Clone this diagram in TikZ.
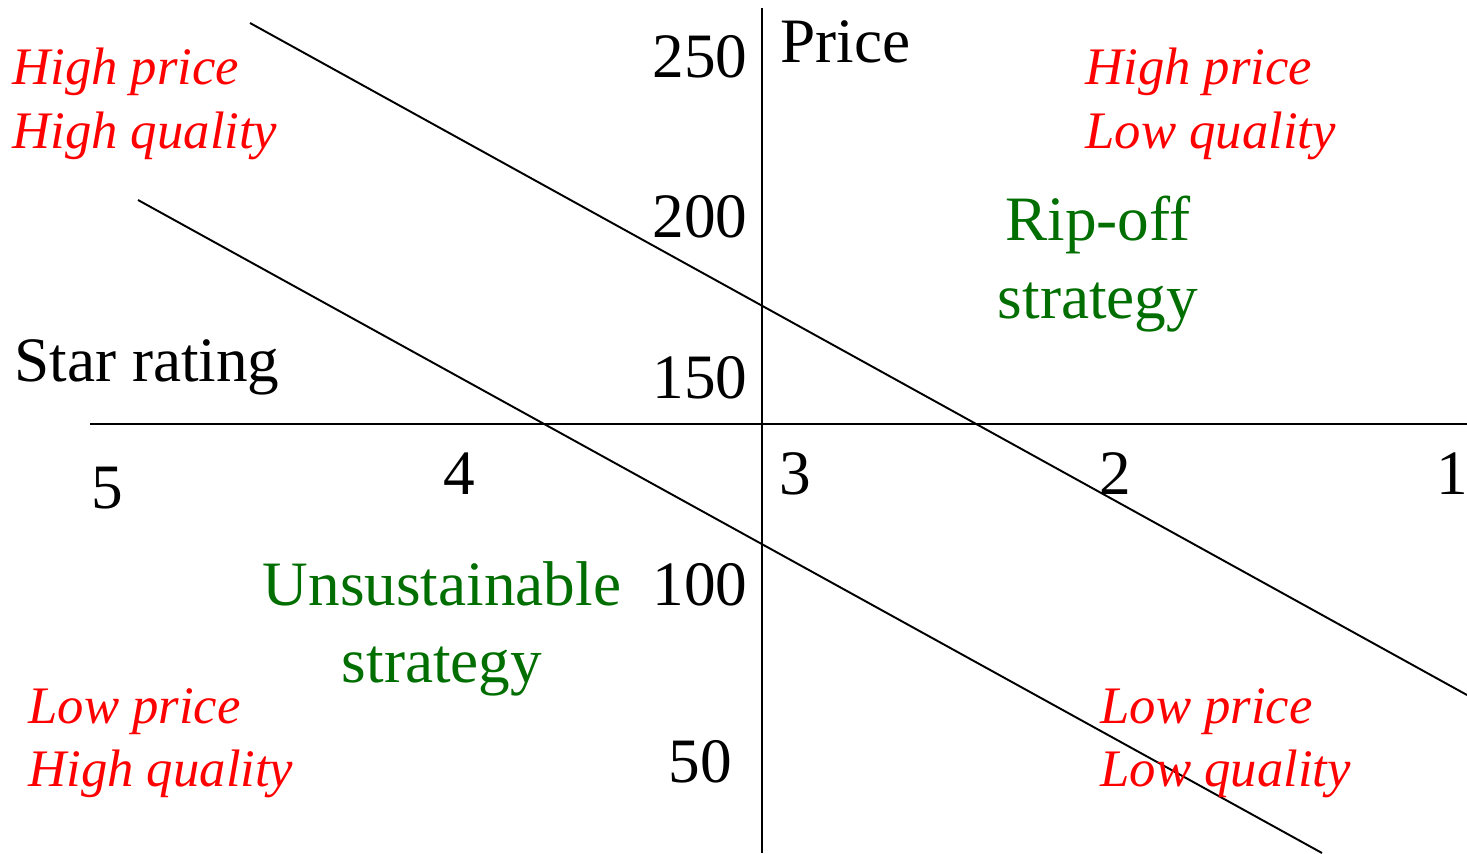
\documentclass[tikz,border=0pt]{standalone}
\usepackage{fontspec}
\setmainfont{Liberation Serif}
\definecolor{tred}{RGB}{255,0,0}
\definecolor{tgreen}{RGB}{0,110,0}
\begin{document}
\begin{tikzpicture}[x=0.02cm,y=-0.02cm,
  axis/.style={line width=1.1pt,black},
  lbl/.style={inner sep=0pt,font=\fontsize{36}{40}\selectfont},
  quad/.style={inner sep=0pt,text=tred,align=left,font=\fontsize{30}{36}\selectfont\itshape},
  strat/.style={inner sep=0pt,text=tgreen,align=center,font=\fontsize{36}{44}\selectfont}]
\useasboundingbox (0,0) rectangle (1467,853);
% axes
\coordinate (vt) at (762,8);
\coordinate (vb) at (762,853);
\coordinate (hl) at (90,424);
\coordinate (hr) at (1467,424);
\draw[axis] (vt) -- (vb);
\draw[axis] (hl) -- (hr);
% diagonal lines
\coordinate (a1) at (250,23);
\coordinate (a2) at (1467,695);
\coordinate (b1) at (138,200);
\coordinate (b2) at (1322,853);
\draw[axis] (a1) -- (a2);
\draw[axis] (b1) -- (b2);
% axis labels
\node[lbl,anchor=west] (price) at (780,42) {Price};
\node[lbl,anchor=west] (star) at (14,367) {Star rating};
\node[lbl] (p250) at (700,57) {250};
\node[lbl] (p200) at (700,217) {200};
\node[lbl] (p150) at (700,378) {150};
\node[lbl] (p100) at (700,585) {100};
\node[lbl] (p50) at (700,762) {50};
\node[lbl] (s5) at (107,488) {5};
\node[lbl] (s4) at (459,474) {4};
\node[lbl] (s3) at (795,474) {3};
\node[lbl] (s2) at (1115,474) {2};
\node[lbl] (s1) at (1452,474) {1};
% quadrant labels
\node[quad,anchor=west] (q1) at (12,104) {High price\\High quality};
\node[quad,anchor=west] (q2) at (1085,104) {High price\\Low quality};
\node[quad,anchor=west] (q3) at (28,743) {Low price\\High quality};
\node[quad,anchor=west] (q4) at (1100,743) {Low price\\Low quality};
% strategies
\node[strat] (rip) at (1098,264) {Rip-off\\strategy};
\node[strat] (uns) at (442,629) {Unsustainable\\strategy};
\end{tikzpicture}
\end{document}
